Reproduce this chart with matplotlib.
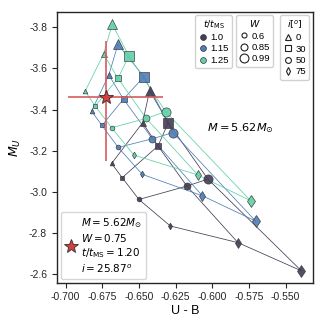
import numpy as np
import matplotlib
matplotlib.use('Agg')
from matplotlib import pyplot as plt
from matplotlib.lines import Line2D

plt.rcParams['font.family'] = ['Liberation Sans', 'DejaVu Sans']

# grid of models: rows = W (0.6, 0.85, 0.99), columns = i (0, 30, 50, 75)
t_vals = ['1.0', '1.15', '1.25']
w_vals = ['0.6', '0.85', '0.99']
i_vals = ['0', '30', '50', '75']

ub_100 = [[-0.6686, -0.6614, -0.6500, -0.6286],
          [-0.6475, -0.6370, -0.6173, -0.5825],
          [-0.6427, -0.6300, -0.6030, -0.5393]]
mu_100 = [[-3.138, -3.069, -2.963, -2.834],
          [-3.336, -3.223, -3.028, -2.753],
          [-3.492, -3.336, -3.062, -2.616]]

ub_115 = [[-0.6823, -0.6752, -0.6641, -0.6477],
          [-0.6705, -0.6605, -0.6409, -0.6068],
          [-0.6643, -0.6466, -0.6268, -0.5705]]
mu_115 = [[-3.393, -3.323, -3.216, -3.085],
          [-3.568, -3.451, -3.258, -2.981],
          [-3.717, -3.560, -3.288, -2.858]]

ub_125 = [[-0.6866, -0.6798, -0.6686, -0.6534],
          [-0.6741, -0.6643, -0.6450, -0.6098],
          [-0.6682, -0.6568, -0.6318, -0.5739]]
mu_125 = [[-3.490, -3.417, -3.312, -3.179],
          [-3.670, -3.552, -3.357, -3.082],
          [-3.815, -3.661, -3.390, -2.957]]

# best fit star
star_ub, star_mu = -0.6723, -3.460
star_ub_err = [[0.0261], [0.0387]]
star_mu_err = [[0.273], [0.309]]

colors = ['#433d55', '#4d7eb7', '#5fd0a7']
sizes = [3.4, 5.0, 6.6]
markers = ['^', 's', 'o', 'd']

fig, ax = plt.subplots(figsize=(3.25, 3.25), dpi=100)
fig.subplots_adjust(left=0.175, right=0.963, top=0.964, bottom=0.13)

data = [(ub_100, mu_100), (ub_115, mu_115), (ub_125, mu_125)]
for ti, (ub, mu) in enumerate(data):
	ub = np.array(ub)
	mu = np.array(mu)
	c = colors[ti]
	for wi in range(3):
		ax.plot(ub[wi], mu[wi], color=c, lw=0.55, zorder=1)
	for ii in range(4):
		ax.plot(ub[:, ii], mu[:, ii], color=c, lw=0.55, zorder=1)
	for wi in range(3):
		for ii in range(4):
			ax.plot(ub[wi, ii], mu[wi, ii], marker=markers[ii], ms=sizes[wi],
				color=c, mec='#333333', mew=0.5, alpha=0.9, zorder=3, ls='none')

ax.errorbar(star_ub, star_mu, xerr=star_ub_err, yerr=star_mu_err, fmt='none',
	ecolor='#d65c5c', elinewidth=1.4, alpha=0.85, zorder=4)
star = ax.plot(star_ub, star_mu, marker='*', ms=10, color='#d0413f', mec='#3a2a2a',
	mew=0.6, ls='none', zorder=5)[0]

ax.text(-0.6035, -3.31, r'$M = 5.62M_{\odot}$', fontsize=8.2, va='center')

ax.set_xlim(-0.7059, -0.5314)
ax.set_ylim(-2.558, -3.876)
ax.set_xticks([-0.700, -0.675, -0.650, -0.625, -0.600, -0.575, -0.550])
ax.set_xticklabels(['%.3f' % v for v in ax.get_xticks()])
ax.set_yticks([-3.8, -3.6, -3.4, -3.2, -3.0, -2.8, -2.6])
ax.set_yticklabels(['%.1f' % v for v in ax.get_yticks()])
ax.tick_params(labelsize=7.5, length=3.5, width=0.8, direction='out', colors='#262626')
ax.set_xlabel('U - B', fontsize=9, labelpad=2)
ax.set_ylabel(r'$M_U$', fontsize=9, labelpad=4)
for s in ax.spines.values():
	s.set_color('#262626')
	s.set_linewidth(1.0)

# legends
lkw = dict(fontsize=6.8, title_fontsize=6.8, frameon=True, framealpha=0.9,
	edgecolor='#cccccc', handletextpad=0.3, borderpad=0.35, labelspacing=0.25,
	handlelength=1.0, borderaxespad=0.0, fancybox=True)

h_t = [Line2D([], [], marker='o', ms=4.2, color=c, mec='#333333', mew=0.5, ls='none')
	for c in colors]
leg1 = ax.legend(h_t, t_vals, title=r'$t/t_{\rm MS}$', loc='upper right',
	bbox_to_anchor=(0.685, 0.988), **lkw)
ax.add_artist(leg1)

h_w = [Line2D([], [], marker='o', ms=s, mfc='none', mec='#222222', mew=0.8, ls='none')
	for s in [3.6, 5.0, 6.4]]
leg2 = ax.legend(h_w, w_vals, title=r'$W$', loc='upper right',
	bbox_to_anchor=(0.845, 0.988), **lkw)
ax.add_artist(leg2)

h_i = [Line2D([], [], marker=m, ms=4.2, mfc='none', mec='#222222', mew=0.8, ls='none')
	for m in markers]
leg3 = ax.legend(h_i, i_vals, title=r'$i[^o]$', loc='upper right',
	bbox_to_anchor=(0.985, 0.988), **lkw)
ax.add_artist(leg3)

star_label = '$M = 5.62M_{\\odot}$\n$W = 0.75$\n$t/t_{\\rm MS} = 1.20$\n$i = 25.87^o$'
ax.legend([star], [star_label], loc='lower left', bbox_to_anchor=(0.015, 0.015),
	fontsize=7.5, frameon=True, edgecolor='#cccccc', handletextpad=0.3,
	borderpad=0.4, handlelength=1.2, borderaxespad=0.0)

fig.savefig('out.png', dpi=100)
